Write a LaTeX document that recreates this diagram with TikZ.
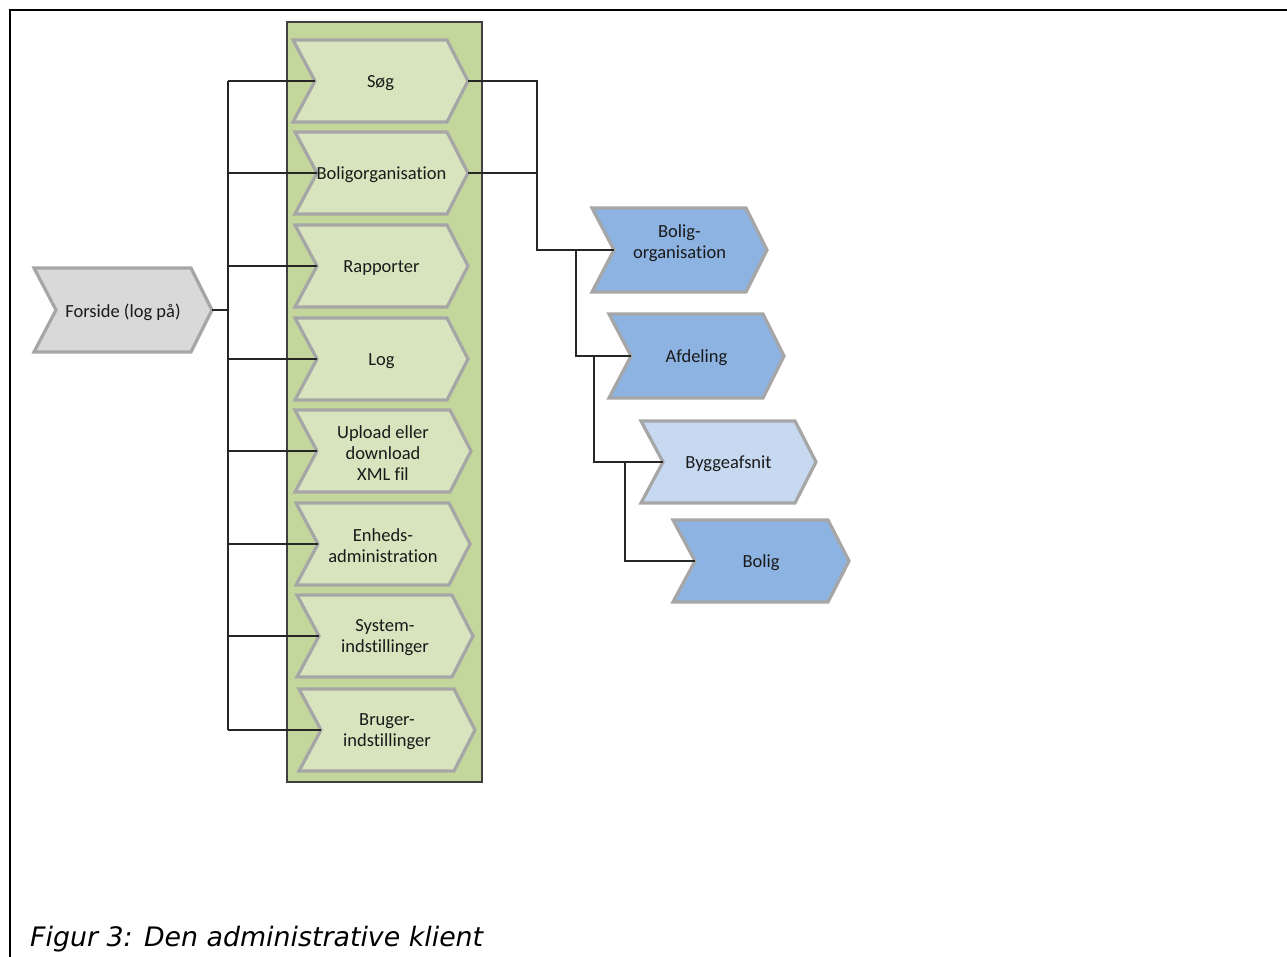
\documentclass[tikz,border=0pt]{standalone}
\usepackage{fontspec}
\setmainfont{Carlito}[Ligatures=NoCommon]
\newfontfamily\capfont{DejaVu Sans}
\definecolor{colgreen}{HTML}{C3D69B}
\definecolor{chgreen}{HTML}{D7E4BD}
\definecolor{chgray}{HTML}{D9D9D9}
\definecolor{chblue}{HTML}{8DB3E2}
\definecolor{chlblue}{HTML}{C6D9F1}
\definecolor{chline}{HTML}{A6A6A6}
\definecolor{txt}{HTML}{1A1A1A}
\tikzset{
  chevline/.style={draw=chline, line width=3.2pt, line join=miter},
  chevtext/.style={align=center, text=txt, font=\fontsize{18.5}{21}\selectfont, inner sep=0pt, yshift=-2pt},
  conn/.style={draw=black!85, line width=1.3pt},
  colbox/.style={fill=colgreen, draw=black!75, line width=1.2pt},
}
% #1 name, #2 left x, #3 tip x, #4 centre y, #5 half height, #6 fill, #7 text
\newcommand\chev[7]{%
  \draw[chevline, fill=#6] (#2,#4-#5) -- (#3-21,#4-#5) -- (#3,#4) -- (#3-21,#4+#5)
     -- (#2,#4+#5) -- (#2+22,#4) -- cycle;
  \node[chevtext] (#1) at ({(#2+#3)/2},#4) {#7};
  \coordinate (#1-in) at (#2+22,#4);
  \coordinate (#1-out) at (#3,#4);
}
\begin{document}
\begin{tikzpicture}[x=1pt, y=-1pt]
\useasboundingbox (0,0) rectangle (1287,957);
% frame
\draw[line width=2pt] (1287,10) -- (10,10) -- (10,957);
% green column
\draw[colbox] (287,22) rectangle (482,782);
% chevrons
\chev{forside}{34}{212}{310}{42}{chgray}{Forside (log på)}
\chev{sog}{293}{468}{81}{41}{chgreen}{Søg}
\chev{bolig}{295}{468}{173}{41}{chgreen}{Boligorganisation}
\chev{rap}{295}{468}{266}{41}{chgreen}{Rapporter}
\chev{log}{295}{468}{359}{41}{chgreen}{Log}
\chev{upl}{295}{471}{451}{41}{chgreen}{Upload eller\\download\\XML fil}
\chev{enh}{296}{470}{544}{41}{chgreen}{Enheds-\\administration}
\chev{sys}{297}{473}{636}{41}{chgreen}{System-\\indstillinger}
\chev{bru}{299}{475}{730}{41}{chgreen}{Bruger-\\indstillinger}
\chev{bo}{592}{767}{250}{42}{chblue}{Bolig-\\organisation\\\mbox{}}
\chev{afd}{609}{784}{356}{42}{chblue}{Afdeling}
\chev{byg}{641}{816}{462}{41}{chlblue}{Byggeafsnit}
\chev{bol}{673}{849}{561}{41}{chblue}{Bolig}
% left bus
\coordinate (busTop) at (228,81);
\coordinate (busBot) at (228,730);
\draw[conn] (busTop) -- (busBot);
\draw[conn] (forside-out) -- (forside-out -| busTop);
\foreach \n in {sog,bolig,rap,log,upl,enh,sys,bru}{
  \draw[conn] (\n-in -| busTop) -- (\n-in);
}
% right tree
\coordinate (j1) at (537,250);
\coordinate (j2) at (576,356);
\coordinate (j3) at (594,462);
\coordinate (j4) at (625,561);
\draw[conn] (sog-out) -| (j1) -- (bo-in);
\draw[conn] (bolig-out) -- (bolig-out -| j1);
\draw[conn] (j2 |- bo-in) -- (j2) -- (afd-in);
\draw[conn] (j3 |- afd-in) -- (j3) -- (byg-in);
\draw[conn] (j4 |- byg-in) -- (j4) -- (bol-in);
% caption
\node[anchor=base west, inner sep=0pt, text=black, font=\capfont\itshape\fontsize{26.8}{30}\selectfont] (cap) at (30,946) {Figur 3: Den administrative klient};
\end{tikzpicture}
\end{document}
